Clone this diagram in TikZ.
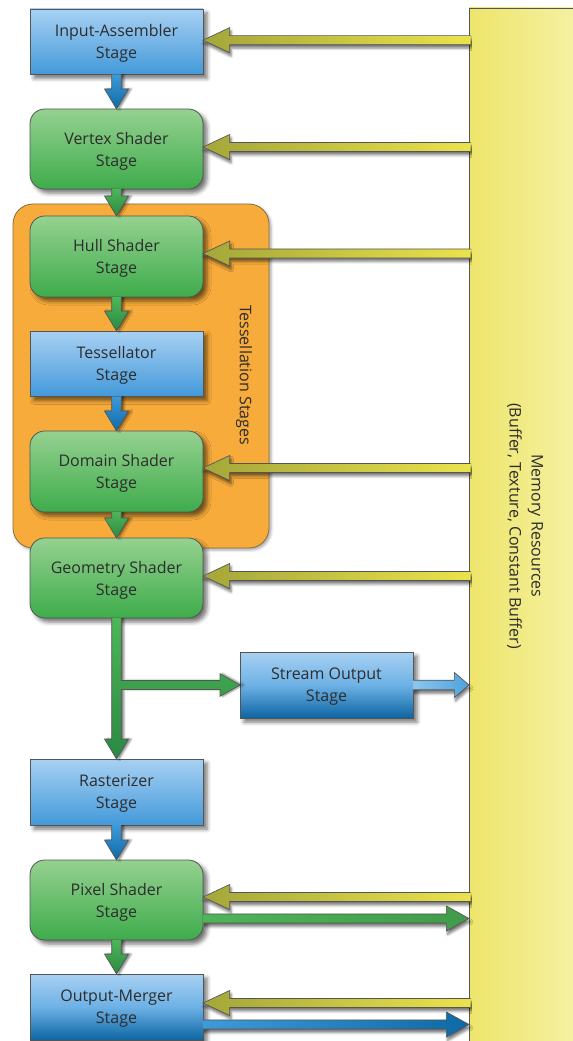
\documentclass[tikz,border=0pt]{standalone}
\usepackage{fontspec}
\setmainfont{Open Sans}
\usetikzlibrary{calc,shadows.blur}

\definecolor{txtgray}{HTML}{2D2D2D}
\definecolor{edgegray}{HTML}{555555}
\definecolor{bluetop}{HTML}{A8D1F3}
\definecolor{bluebot}{HTML}{4399DA}
\definecolor{bluemid}{HTML}{6DB1E5}
\definecolor{bluedeep}{HTML}{0C65A3}
\definecolor{greentop}{HTML}{95D190}
\definecolor{greenbot}{HTML}{3EAC4B}
\definecolor{orangefill}{HTML}{F7AB3B}
\definecolor{orangeedge}{HTML}{8A6B3D}
\definecolor{memleft}{HTML}{EDE56B}
\definecolor{memright}{HTML}{F6F2A6}
\definecolor{olive}{HTML}{A3A639}
\definecolor{lemon}{HTML}{EBE34C}
\definecolor{arrgreenA}{HTML}{4DB657}
\definecolor{arrgreenB}{HTML}{2A8943}
\definecolor{arrblueA}{HTML}{3D9BDA}
\definecolor{arrblueB}{HTML}{0E69A6}
\definecolor{arrskyA}{HTML}{8CC6EE}
\definecolor{arrskyB}{HTML}{4FA2DD}

\tikzset{
  boxshadow/.style={blur shadow={shadow xshift=3pt, shadow yshift=-3pt, shadow blur radius=3pt, shadow opacity=55}},
  stage/.style={anchor=north west, inner sep=0pt, outer sep=0pt, minimum width=129.75pt,
    align=center, text=txtgray, font=\fontsize{12}{16.5}\selectfont, text depth=-6pt,
    draw=edgegray, line width=0.6pt, boxshadow},
  squarestage/.style={stage, top color=bluetop, bottom color=bluebot, minimum height=49pt},
  deepstage/.style={stage, top color=bluetop, bottom color=bluedeep, middle color=bluemid, minimum height=49.5pt},
  roundstage/.style={stage, rounded corners=11pt, top color=greentop, bottom color=greenbot, minimum height=60pt},
  link/.style={draw=edgegray, line width=0.5pt,
    blur shadow={shadow xshift=1pt, shadow yshift=-2.5pt, shadow blur radius=2pt, shadow opacity=55}},
  downlink/.style={draw=edgegray, line width=0.5pt,
    blur shadow={shadow xshift=2pt, shadow yshift=0pt, shadow blur radius=1.5pt, shadow opacity=50}},
  feed/.style={link, left color=olive, right color=lemon},
  greenlink/.style={downlink, top color=arrgreenA, bottom color=arrgreenB},
  greenout/.style={link, left color=arrgreenA, right color=arrgreenA!85!black},
  bluelink/.style={downlink, top color=arrblueA, bottom color=arrblueB},
  blueout/.style={link, left color=arrblueA, right color=arrblueB},
  skyout/.style={link, left color=arrskyA, right color=arrskyB},
  caption/.style={text=txtgray, font=\fontsize{12}{16.5}\selectfont, align=center, inner sep=0pt},
}

% horizontal block arrow: style, tail, tip, shaft half width, head half width, head length
\newcommand\hlink[6]{%
  \path[#1] let \p1=(#2), \p2=(#3), \p3=($(#3)!#6!(#2)$) in
    (\x1,{\y2+#4}) -- (\x3,{\y2+#4}) -- (\x3,{\y2+#5}) -- (\x2,\y2)
    -- (\x3,{\y2-#5}) -- (\x3,{\y2-#4}) -- (\x1,{\y2-#4});}
% vertical block arrow, same arguments
\newcommand\vlink[6]{%
  \path[#1] let \p1=(#2), \p2=(#3), \p3=($(#3)!#6!(#2)$) in
    ({\x2+#4},\y1) -- ({\x2+#4},\y3) -- ({\x2+#5},\y3) -- (\x2,\y2)
    -- ({\x2-#5},\y3) -- ({\x2-#4},\y3) -- ({\x2-#4},\y1);}
% feed from the memory column into a stage
\newcommand\memfeed[2]{%
  \coordinate (#1-tip) at ($(#1.east)+(0,#2)$);
  \coordinate (#1-src) at ($(mem.west |- #1-tip)+(1.5,0)$);
  \hlink{feed}{#1-src}{#1-tip}{3.4pt}{9.4pt}{20pt}}

\begin{document}
\begin{tikzpicture}[x=0.75pt, y=-0.75pt]
\useasboundingbox (0,0) rectangle (572,1041);

% memory column and tessellation group
\node[anchor=north west, draw=edgegray, line width=0.6pt, left color=memleft, right color=memright,
  minimum width=87pt, minimum height=785pt, inner sep=0pt, outer sep=0pt] (mem) at (469,8) {};
\node[anchor=north west, draw=orangeedge, line width=0.6pt, fill=orangefill, rounded corners=15pt,
  minimum width=192pt, minimum height=258pt, inner sep=0pt, outer sep=0pt,
  blur shadow={shadow xshift=1.5pt, shadow yshift=-1.5pt, shadow blur radius=2pt, shadow opacity=35}] (tess) at (13,204) {};

\node[caption, rotate=-90] (memtext) at (525,526) {Memory Resources\\(Buffer, Texture, Constant Buffer)};
\node[caption, rotate=-90] (tesstext) at (244,375) {Tessellation Stages};

% pipeline stages
\node[squarestage] (ia) at (30,9) {Input-Assembler\\Stage};
\node[roundstage] (vs) at (30,109) {Vertex Shader\\Stage};
\node[roundstage, minimum height=60.75pt] (hs) at (30,216) {Hull Shader\\Stage};
\node[squarestage] (ts) at (30,331) {Tessellator\\Stage};
\node[roundstage, minimum height=60.75pt] (ds) at (30,431) {Domain Shader\\Stage};
\node[roundstage] (gs) at (30,538) {Geometry Shader\\Stage};
\node[deepstage] (so) at (240,652) {Stream Output\\Stage};
\node[squarestage, minimum height=49.5pt] (rs) at (30,759) {Rasterizer\\Stage};
\node[roundstage] (ps) at (30,860) {Pixel Shader\\Stage};
\node[deepstage] (om) at (30,974) {Output-Merger\\Stage};

% stage to stage
\vlink{bluelink}{ia.south}{vs.north}{3.6pt}{9pt}{15pt}
\vlink{greenlink}{vs.south}{hs.north}{3.6pt}{9pt}{15pt}
\vlink{greenlink}{hs.south}{ts.north}{3.6pt}{9pt}{15pt}
\vlink{bluelink}{ts.south}{ds.north}{3.6pt}{9pt}{15pt}
\vlink{greenlink}{ds.south}{gs.north}{3.6pt}{9pt}{15pt}
\vlink{bluelink}{rs.south}{ps.north}{3.6pt}{9pt}{15pt}
\vlink{greenlink}{ps.south}{om.north}{3.6pt}{9pt}{15pt}

% geometry shader splits to the rasterizer and the stream output
\coordinate (branch) at (gs.south |- so.west);
\path[greenlink] let \p1=(gs.south), \p2=(rs.north), \p3=(so.west),
    \p4=($(rs.north)!15pt!(gs.south)$), \p5=($(so.west)!15pt!(branch)$) in
  ({\x1+3.6pt},\y1) -- ({\x1+3.6pt},{\y3+3.4pt}) -- (\x5,{\y3+3.4pt}) -- (\x5,{\y3+8.5pt})
  -- (\x3,\y3) -- (\x5,{\y3-8.5pt}) -- (\x5,{\y3-3.4pt}) -- ({\x1+3.6pt},{\y3-3.4pt})
  -- ({\x1+3.6pt},\y4) -- ({\x1+9pt},\y4) -- (\x2,\y2) -- ({\x1-9pt},\y4)
  -- ({\x1-3.6pt},\y4) -- ({\x1-3.6pt},\y1);

% memory reads
\memfeed{ia}{-1.5}
\memfeed{vs}{-2}
\memfeed{hs}{-3}
\memfeed{ds}{-3.5}
\memfeed{gs}{-2}
\memfeed{ps}{-3}
\memfeed{om}{-4}

% memory writes
\coordinate (so-dst) at (mem.west |- so.east);
\hlink{skyout}{so.east}{so-dst}{3.6pt}{9.4pt}{11pt}
\coordinate (ps-out) at ($(ps.east)+(0,18.5)$);
\coordinate (ps-dst) at (mem.west |- ps-out);
\hlink{greenout}{ps-out}{ps-dst}{3.4pt}{9.4pt}{17pt}
\coordinate (om-out) at ($(om.east)+(0,17.5)$);
\coordinate (om-dst) at (mem.west |- om-out);
\hlink{blueout}{om-out}{om-dst}{3.4pt}{9.4pt}{17pt}
\end{tikzpicture}
\end{document}
